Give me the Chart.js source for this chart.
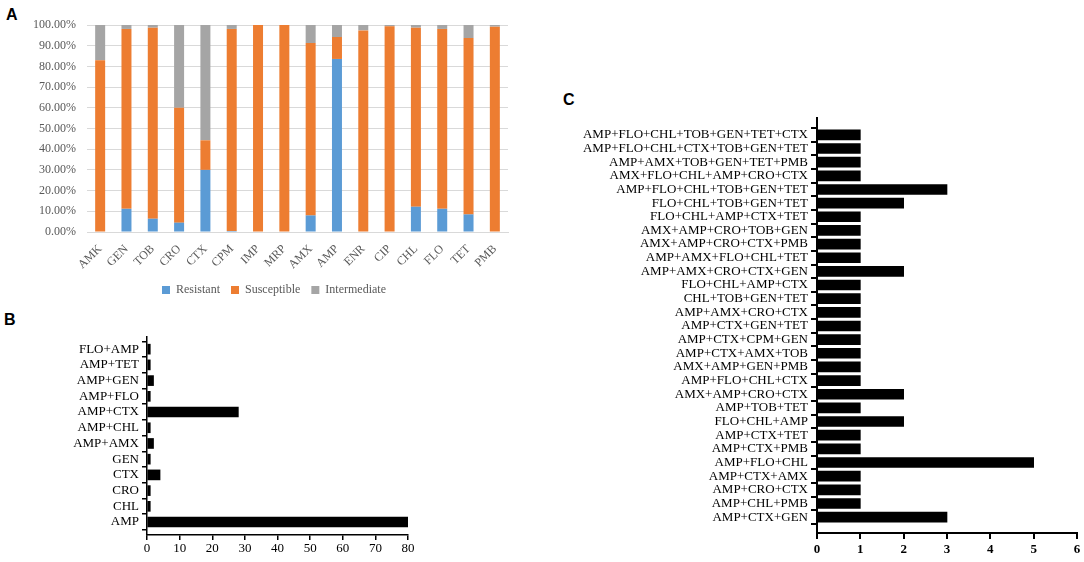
<!DOCTYPE html>
<html>
<head>
<meta charset="utf-8">
<script src="https://cdn.jsdelivr.net/npm/chart.js@4.4.1/dist/chart.umd.min.js"></script>
<style>
  html, body { margin: 0; padding: 0; background: #fff; }
  body { width: 1084px; height: 562px; position: relative; overflow: hidden; }
  .panel { position: absolute; }
  .tag { position: absolute; font-family: "Liberation Sans", Arial, sans-serif; font-weight: bold; font-size: 16px; line-height: 16px; color: #000; }
</style>
</head>
<body>
<div class="tag" style="left:6px;top:7px;">A</div>
<div class="tag" style="left:4px;top:312px;">B</div>
<div class="tag" style="left:563px;top:92px;">C</div>
<div class="panel" style="left:0;top:0;"><canvas id="chartA" width="540" height="310"></canvas></div>
<div class="panel" style="left:0;top:300px;"><canvas id="chartB" width="430" height="262"></canvas></div>
<div class="panel" style="left:560px;top:100px;"><canvas id="chartC" width="524" height="462"></canvas></div>
<script>
// ---------- Panel A data ----------
const drugs = ['AMK','GEN','TOB','CRO','CTX','CPM','IMP','MRP','AMX','AMP','ENR','CIP','CHL','FLO','TET','PMB'];
const resistant    = [0, 11.2, 6.4, 4.5, 30.0, 0.5, 0, 0, 8.0, 83.6, 0, 0, 12.2, 11.2, 8.5, 0];
const susceptible  = [83.0, 86.9, 92.3, 55.5, 14.3, 97.6, 100, 100, 83.3, 10.6, 97.4, 99.4, 86.5, 86.9, 85.2, 99.2];
const intermediate = [17.0, 1.9, 1.3, 40.0, 55.7, 1.9, 0, 0, 8.7, 5.8, 2.6, 0.6, 1.3, 1.9, 6.3, 0.8];
const seriesNamesA = ['Resistant','Susceptible','Intermediate'];
const yTicksA = [0,10,20,30,40,50,60,70,80,90,100];

// ---------- Panel B data ----------
const combosB = ['FLO+AMP','AMP+TET','AMP+GEN','AMP+FLO','AMP+CTX','AMP+CHL','AMP+AMX','GEN','CTX','CRO','CHL','AMP'];
const countsB = [1, 1, 2, 1, 28, 1, 2, 1, 4, 1, 1, 80];
const xTicksB = [0,10,20,30,40,50,60,70,80];

// ---------- Panel C data ----------
const combosC = [
  'AMP+FLO+CHL+TOB+GEN+TET+CTX',
  'AMP+FLO+CHL+CTX+TOB+GEN+TET',
  'AMP+AMX+TOB+GEN+TET+PMB',
  'AMX+FLO+CHL+AMP+CRO+CTX',
  'AMP+FLO+CHL+TOB+GEN+TET',
  'FLO+CHL+TOB+GEN+TET',
  'FLO+CHL+AMP+CTX+TET',
  'AMX+AMP+CRO+TOB+GEN',
  'AMX+AMP+CRO+CTX+PMB',
  'AMP+AMX+FLO+CHL+TET',
  'AMP+AMX+CRO+CTX+GEN',
  'FLO+CHL+AMP+CTX',
  'CHL+TOB+GEN+TET',
  'AMP+AMX+CRO+CTX',
  'AMP+CTX+GEN+TET',
  'AMP+CTX+CPM+GEN',
  'AMP+CTX+AMX+TOB',
  'AMX+AMP+GEN+PMB',
  'AMP+FLO+CHL+CTX',
  'AMX+AMP+CRO+CTX',
  'AMP+TOB+TET',
  'FLO+CHL+AMP',
  'AMP+CTX+TET',
  'AMP+CTX+PMB',
  'AMP+FLO+CHL',
  'AMP+CTX+AMX',
  'AMP+CRO+CTX',
  'AMP+CHL+PMB',
  'AMP+CTX+GEN'
];
const countsC = [1,1,1,1,3,2,1,1,1,1,2,1,1,1,1,1,1,1,1,2,1,2,1,1,5,1,1,1,3];
const xTicksC = [0,1,2,3,4,5,6];

const SERIF = '"Liberation Serif", "Times New Roman", serif';

// shift the bottom legend of panel A so it sits centred under the whole figure area
const legendShift = {
  id: 'legendShift',
  afterLayout(chart) {
    if (chart.legend) { chart.legend.left += 20; chart.legend.right += 20; }
  }
};

// ---------- Panel A ----------
new Chart(document.getElementById('chartA'), {
  type: 'bar',
  data: {
    labels: drugs,
    datasets: [
      { label: seriesNamesA[0], data: resistant,    backgroundColor: '#5B9BD5', borderWidth: 0 },
      { label: seriesNamesA[1], data: susceptible,  backgroundColor: '#ED7D31', borderWidth: 0 },
      { label: seriesNamesA[2], data: intermediate, backgroundColor: '#A5A5A5', borderWidth: 0 }
    ]
  },
  plugins: [legendShift],
  options: {
    responsive: false,
    animation: false,
    devicePixelRatio: 1,
    categoryPercentage: 1,
    barPercentage: 0.38,
    layout: { padding: { top: 25, right: 32, bottom: 4, left: 0 } },
    plugins: {
      tooltip: { enabled: false },
      legend: {
        position: 'bottom',
        labels: { boxWidth: 8, boxHeight: 8, padding: 11, color: '#595959', font: { family: SERIF, size: 12 } }
      }
    },
    scales: {
      x: {
        stacked: true,
        grid: { display: false },
        border: { display: true, color: '#d9d9d9', width: 1 },
        afterFit: s => { s.height = 41; },
        ticks: { maxRotation: 45, minRotation: 45, padding: 2, color: '#595959', font: { family: SERIF, size: 12 }, autoSkip: false }
      },
      y: {
        stacked: true,
        min: 0, max: 100,
        afterBuildTicks: s => { s.ticks = yTicksA.map(v => ({ value: v })); },
        afterFit: s => { s.width = 87; },
        grid: { color: '#d9d9d9', drawTicks: false, lineWidth: 1 },
        border: { display: false },
        ticks: { padding: 11, color: '#595959', font: { family: SERIF, size: 12 }, callback: v => v.toFixed(2) + '%' }
      }
    }
  }
});

// ---------- horizontal bar helper for B and C ----------
function hbar(id, labels, values, xTicks, o) {
  return new Chart(document.getElementById(id), {
    type: 'bar',
    data: {
      datasets: [{
        data: values.map((v, i) => ({ x: v, y: i })),
        backgroundColor: '#000',
        borderWidth: 0,
        barThickness: o.bar
      }]
    },
    options: {
      indexAxis: 'y',
      responsive: false,
      animation: false,
      devicePixelRatio: 1,
      layout: { padding: { top: o.top, right: o.right, bottom: 0, left: 0 } },
      plugins: { legend: { display: false }, tooltip: { enabled: false } },
      scales: {
        y: {
          type: 'linear',
          reverse: true,
          min: o.ymin, max: o.ymax,
          afterBuildTicks: s => { s.ticks = labels.map((_, i) => ({ value: i })); },
          afterFit: s => { s.width = o.left; },
          grid: { drawOnChartArea: false, drawTicks: true, tickLength: o.tick, color: '#000', lineWidth: o.lw },
          border: { display: true, color: '#000', width: o.lw },
          ticks: { autoSkip: false, padding: 3, color: '#000', font: { family: SERIF, size: 13 }, callback: v => labels[v] }
        },
        x: {
          type: 'linear',
          min: xTicks[0], max: xTicks[xTicks.length - 1],
          afterBuildTicks: s => { s.ticks = xTicks.map(v => ({ value: v })); },
          afterFit: s => { s.height = o.xh; },
          grid: { drawOnChartArea: false, drawTicks: true, tickLength: o.tick, color: '#000', lineWidth: o.lw },
          border: { display: true, color: '#000', width: o.lw },
          ticks: { padding: o.xpad, color: '#000', font: { family: SERIF, size: 13, weight: o.xbold ? 'bold' : 'normal' } }
        }
      }
    }
  });
}

// Panel B: chart area x 147..408, y 37..235 (canvas coords)
hbar('chartB', combosB, countsB, xTicksB, {
  bar: 10, top: 37, right: 22, left: 147, xh: 27, ymin: -0.25, ymax: 11.3,
  tick: 5, lw: 1.5, xpad: 1, xbold: false
});

// Panel C: chart area x 257..517, y 18..433 (canvas coords)
hbar('chartC', combosC, countsC, xTicksC, {
  bar: 10, top: 18, right: 7, left: 257, xh: 29, ymin: -0.71, ymax: 28.64,
  tick: 6, lw: 2, xpad: 3, xbold: true
});
</script>
</body>
</html>
